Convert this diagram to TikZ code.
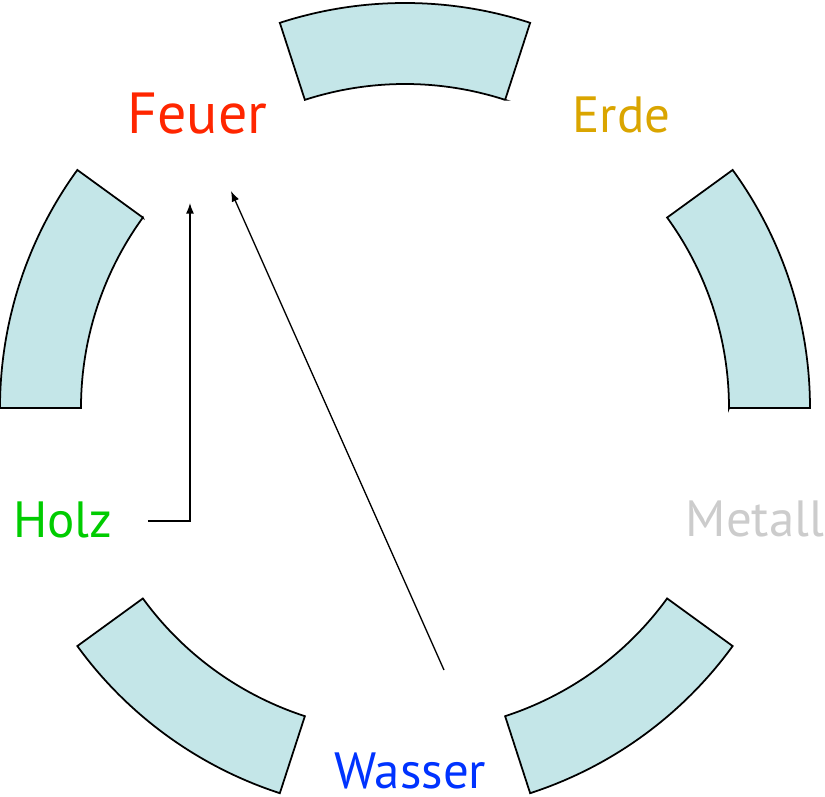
\documentclass[tikz,border=0pt]{standalone}
\usepackage{fontspec}
\setmainfont{PT Sans}
\usepackage{tikz}
\usetikzlibrary{arrows.meta, positioning}
\definecolor{segfill}{RGB}{196,230,232}
\definecolor{feuercol}{RGB}{255,38,0}
\definecolor{erdecol}{RGB}{218,165,0}
\definecolor{holzcol}{RGB}{0,204,0}
\definecolor{wassercol}{RGB}{0,51,255}
\definecolor{metallcol}{RGB}{204,204,204}
\tikzstyle{segment} = [draw, fill=segfill, line width=1pt, line join=miter]
\tikzstyle{element} = [inner sep=1pt, font=\fontsize{29}{34}\selectfont]
\tikzstyle{relation} = [-{Latex[length=6pt,width=4.5pt]}, line width=0.75pt]

\begin{document}
\begin{tikzpicture}[auto,>=latex]
  \useasboundingbox (-8.1,-7.76) rectangle (8.4,8.16);
  % five ring pieces
  \foreach \a in {0,72,...,288}
    \draw[segment] (\a:6.48) -- (\a:8.1)
      arc[start angle=\a, end angle=\a+36, radius=8.1]
      -- (\a+36:6.48)
      arc[start angle=\a+36, end angle=\a, radius=6.48] -- cycle;
  % the elements
  \node[element, text=erdecol] (erde) at (4.33,5.87) {Erde};
  \node[element, text=feuercol, font=\fontsize{33}{38}\selectfont] (feuer) at (-4.15,5.88) {Feuer};
  \node[element, text=holzcol] (holz) at (-6.84,-2.24) {Holz};
  \node[element, text=wassercol] (wasser) at (0.11,-7.25) {Wasser};
  \node[element, text=metallcol] (metall) at (7.0,-2.22) {Metall};
  % arrows
  \coordinate (holzout) at (-5.14,-2.26);
  \coordinate (feuerin1) at (-4.3,4.1);
  \coordinate (wasserout) at (0.78,-5.24);
  \coordinate (feuerin2) at (-3.48,4.34);
  \draw[relation] (holzout) -| (feuerin1);
  \draw[relation] (wasserout) -- (feuerin2);
\end{tikzpicture}
\end{document}
